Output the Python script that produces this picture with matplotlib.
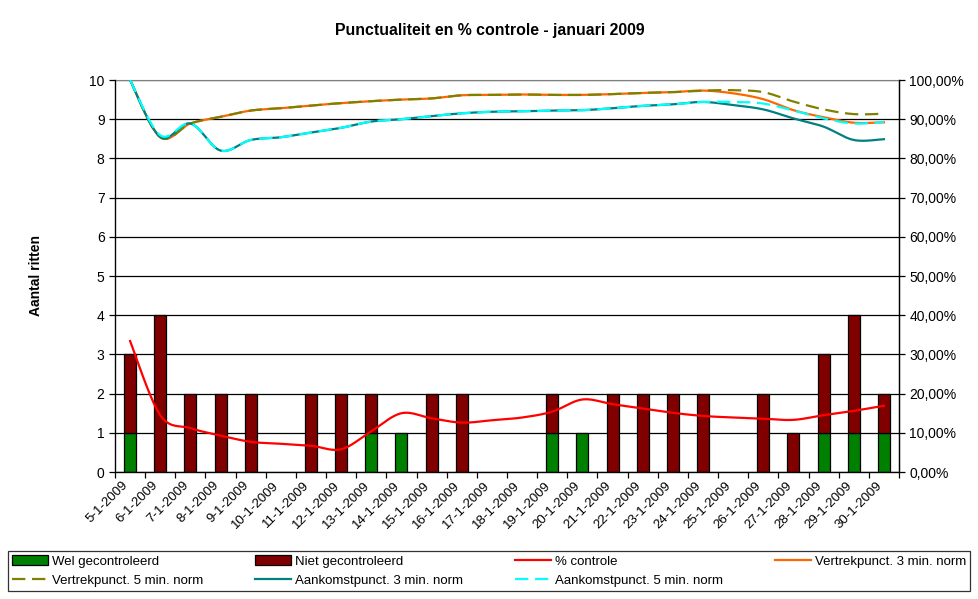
import numpy as np
import matplotlib
matplotlib.use('Agg')
import matplotlib.pyplot as plt
import matplotlib.transforms as mtransforms
from matplotlib.ticker import FuncFormatter

plt.rcParams['font.family'] = ['Liberation Sans', 'DejaVu Sans']

# data
dates = ['5-1-2009', '6-1-2009', '7-1-2009', '8-1-2009', '9-1-2009', '10-1-2009',
         '11-1-2009', '12-1-2009', '13-1-2009', '14-1-2009', '15-1-2009', '16-1-2009',
         '17-1-2009', '18-1-2009', '19-1-2009', '20-1-2009', '21-1-2009', '22-1-2009',
         '23-1-2009', '24-1-2009', '25-1-2009', '26-1-2009', '27-1-2009', '28-1-2009',
         '29-1-2009', '30-1-2009']
wel = [1, 0, 0, 0, 0, 0, 0, 0, 1, 1, 0, 0, 0, 0, 1, 1, 0, 0, 0, 0, 0, 0, 0, 1, 1, 1]
niet = [2, 4, 2, 2, 2, 0, 2, 2, 1, 0, 2, 2, 0, 0, 1, 0, 2, 2, 2, 2, 0, 2, 1, 2, 3, 1]
pct_controle = [33.4, 14.5, 11.2, 9.3, 7.7, 7.2, 6.7, 5.8, 10.4, 15.0, 13.7, 12.6,
                13.2, 13.9, 15.4, 18.5, 17.3, 16.2, 15.1, 14.3, 13.9, 13.6, 13.3,
                14.5, 15.6, 16.9]
vertrek_3 = [100.0, 85.4, 88.9, 90.6, 92.2, 92.8, 93.5, 94.1, 94.6, 95.0, 95.3, 96.1,
             96.2, 96.3, 96.2, 96.2, 96.4, 96.7, 96.9, 97.3, 96.6, 95.1, 92.3, 90.5,
             89.1, 89.2]
vertrek_5 = [100.0, 85.4, 88.9, 90.6, 92.2, 92.8, 93.5, 94.1, 94.6, 95.0, 95.3, 96.1,
             96.2, 96.3, 96.2, 96.2, 96.4, 96.7, 96.9, 97.3, 97.4, 96.9, 94.5, 92.5,
             91.3, 91.4]
aankomst_3 = [100.0, 85.5, 88.9, 82.0, 84.7, 85.4, 86.6, 87.8, 89.4, 90.0, 90.8, 91.5,
              91.9, 92.0, 92.2, 92.3, 92.8, 93.4, 93.8, 94.4, 93.6, 92.5, 90.2, 88.1,
              84.7, 84.9]
aankomst_5 = [100.0, 85.9, 88.9, 82.0, 84.7, 85.4, 86.6, 87.8, 89.4, 90.0, 90.8, 91.5,
              91.9, 92.0, 92.2, 92.3, 92.8, 93.4, 93.8, 94.4, 94.4, 94.0, 92.2, 90.2,
              88.9, 89.3]


def smooth(x, y, n=20):
    # Catmull-Rom curve through the points, like Excel's smoothed line
    x = np.asarray(x, float)
    y = np.asarray(y, float)
    px = np.concatenate([[x[0]], x, [x[-1]]])
    py = np.concatenate([[y[0]], y, [y[-1]]])
    xs, ys = [], []
    t = np.linspace(0, 1, n, endpoint=False)
    for i in range(1, len(px) - 2):
        for p, out in ((px, xs), (py, ys)):
            p0, p1, p2, p3 = p[i - 1], p[i], p[i + 1], p[i + 2]
            out.extend(0.5 * ((2 * p1) + (-p0 + p2) * t
                              + (2 * p0 - 5 * p1 + 4 * p2 - p3) * t ** 2
                              + (-p0 + 3 * p1 - 3 * p2 + p3) * t ** 3))
    xs.append(x[-1])
    ys.append(y[-1])
    return np.array(xs), np.array(ys)


W, H = 979, 599
fig = plt.figure(figsize=(W / 100, H / 100), dpi=100)
ax = fig.add_axes([115 / W, (H - 472) / H, (899 - 115) / W, (472 - 80) / H])
ax2 = ax.twinx()

x = np.arange(len(dates))
b1 = ax.bar(x, wel, 0.4, color='#008000', edgecolor='black', linewidth=0.9,
            label='Wel gecontroleerd')
b2 = ax.bar(x, niet, 0.4, bottom=wel, color='#800000', edgecolor='black', linewidth=0.9,
            label='Niet gecontroleerd')
# empty segments are not drawn in the original
for cont in (b1, b2):
    for r in cont.patches:
        if r.get_height() == 0:
            r.set_visible(False)

ax.set_xlim(-0.5, len(dates) - 0.5)
ax.set_ylim(0, 10)
ax.set_yticks(range(0, 11))
ax.yaxis.grid(True, color='black', linewidth=0.9)
ax.set_axisbelow(True)
ax.set_xticks(x)
ax.set_xticklabels(dates, rotation=45, ha='right', rotation_mode='anchor', fontsize=9.5)
ax.set_xticks(np.arange(len(dates) + 1) - 0.5, minor=True)
ax.tick_params(axis='x', which='major', length=0, pad=6)
ax.tick_params(axis='x', which='minor', length=4, width=0.9, direction='out')
ax.tick_params(axis='y', length=4, width=0.9, labelsize=10)
shift = mtransforms.ScaledTranslation(-8 / 100, 1 / 100, fig.dpi_scale_trans)
for lab in ax.get_xticklabels():
    lab.set_transform(lab.get_transform() + shift)
ax.set_ylabel('Aantal ritten', fontsize=10, fontweight='bold', labelpad=33)

ax.spines['top'].set_color('#808080')
for s in ('left', 'bottom', 'right'):
    ax.spines[s].set_linewidth(0.9)
ax2.spines['top'].set_visible(False)
ax2.spines['right'].set_linewidth(0.9)

series = [
    (pct_controle, '% controle', '#FF0000', '-'),
    (vertrek_3, 'Vertrekpunct. 3 min. norm', '#FF6600', '-'),
    (vertrek_5, 'Vertrekpunct. 5 min. norm', '#808000', '--'),
    (aankomst_3, 'Aankomstpunct. 3 min. norm', '#008080', '-'),
    (aankomst_5, 'Aankomstpunct. 5 min. norm', '#00FFFF', '--'),
]
lines = []
for vals, name, col, ls in series:
    sx, sy = smooth(x, vals)
    ln, = ax2.plot(sx, sy, color=col, linestyle=ls, linewidth=1.6, label=name)
    if ls == '--':
        ln.set_dashes((6, 3))
    lines.append(ln)

ax2.set_ylim(0, 100)
ax2.set_yticks(range(0, 101, 10))
ax2.yaxis.set_major_formatter(FuncFormatter(lambda v, p: f'{v:.2f}%'.replace('.', ',')))
ax2.tick_params(axis='y', length=4, width=0.9, labelsize=10)

fig.text(0.5, 1 - 31 / H, 'Punctualiteit en % controle - januari 2009',
         ha='center', va='center', fontsize=11.4, fontweight='bold')

# fill row by row like the original legend
order = [b1, lines[2], b2, lines[3], lines[0], lines[4], lines[1]]
leg = fig.legend(order, [h.get_label() for h in order], ncol=4, mode='expand',
                 loc='lower left', bbox_to_anchor=(8 / W, (H - 591) / H, 962 / W, 43 / H),
                 fontsize=9.5, frameon=True, fancybox=False, edgecolor='black',
                 handlelength=2.7, handletextpad=0.3, borderaxespad=0, labelspacing=0.55,
                 borderpad=0.3)
leg.get_frame().set_linewidth(0.9)

fig.savefig('out.png', dpi=100)
